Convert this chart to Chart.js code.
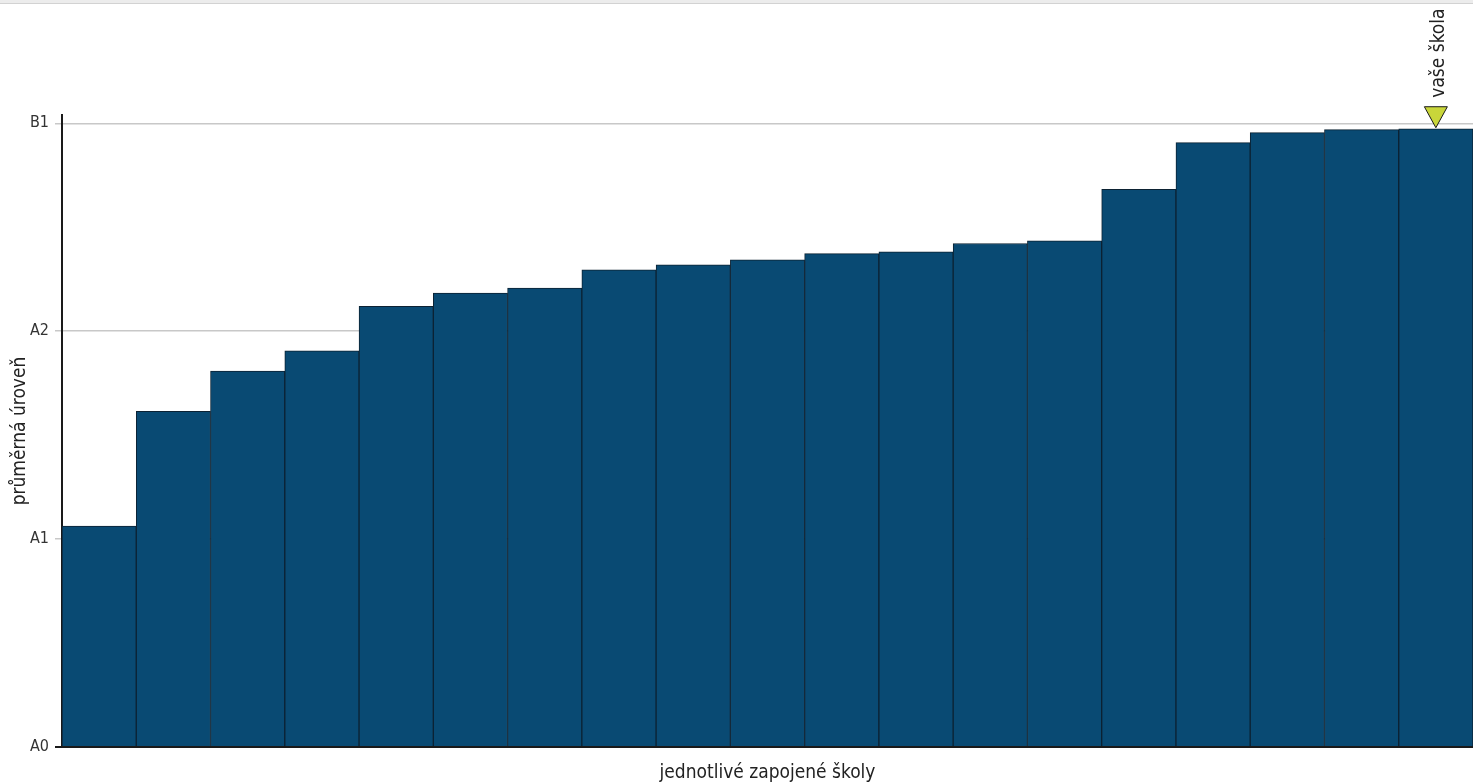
<!DOCTYPE html>
<html><head><meta charset="utf-8">
<script src="https://cdn.jsdelivr.net/npm/chart.js@4.4.1/dist/chart.umd.min.js"></script>
<style>
html,body{margin:0;padding:0;background:#fff;}
#topbar{height:3px;background:#ececec;border-bottom:1px solid #d2d2d2;}
#wrap{width:1473px;height:780px;position:relative;}
</style></head>
<body>
<div id="topbar"></div>
<div id="wrap"><canvas id="c"></canvas></div>
<script>
const categories = ["1","2","3","4","5","6","7","8","9","10","11","12","13","14","15","16","17","18","19"];
const levels = [1.063,1.615,1.808,1.906,2.120,2.184,2.208,2.295,2.319,2.343,2.373,2.382,2.422,2.435,2.683,2.907,2.955,2.970,2.974];
const tickValues = [0,1,2,3];
const tickLabels = ["A0","A1","A2","B1"];
const yourSchoolIndex = 18;
const yourSchoolLabel = "vaše škola";
const yTitle = "průměrná úroveň";
const xTitle = "jednotlivé zapojené školy";

const FONT = "'Liberation Sans Narrow','DejaVu Sans Condensed','Open Sans',sans-serif";

const markerPlugin = {
  id:'marker',
  afterDatasetsDraw(chart){
    const ctx = chart.ctx;
    const xs = chart.scales.x, ys = chart.scales.y;
    const x = xs.getPixelForValue(yourSchoolIndex);
    const yTip = ys.getPixelForValue(levels[yourSchoolIndex]) - 1;
    const h = 21, w = 23;
    ctx.save();
    ctx.beginPath();
    ctx.moveTo(x - w/2, yTip - h);
    ctx.lineTo(x + w/2, yTip - h);
    ctx.lineTo(x, yTip);
    ctx.closePath();
    ctx.fillStyle = '#c9d63a';
    ctx.fill();
    ctx.lineWidth = 1;
    ctx.strokeStyle = '#1a1a1a';
    ctx.stroke();
    ctx.translate(x + 3, yTip - h - 9);
    ctx.rotate(-Math.PI/2);
    ctx.fillStyle = '#222';
    ctx.font = "19px " + FONT;
    ctx.textAlign = 'left';
    ctx.textBaseline = 'middle';
    ctx.fillText(yourSchoolLabel, 0, 0);
    ctx.restore();
  }
};

new Chart(document.getElementById('c'), {
  type:'bar',
  data:{
    labels:categories,
    datasets:[{
      data:levels,
      backgroundColor:'#094a73',
      borderColor:'#0c2233',
      borderWidth:1,
      categoryPercentage:1,
      barPercentage:1
    }]
  },
  options:{
    responsive:true,
    maintainAspectRatio:false,
    animation:false,
    layout:{padding:{top:111,right:0,left:0,bottom:0}},
    plugins:{legend:{display:false},tooltip:{enabled:false}},
    scales:{
      x:{
        grid:{display:false, drawTicks:false},
        border:{display:true,color:'#1a1a1a',width:2},
        ticks:{display:false},
        title:{display:true,text:xTitle,color:'#222',font:{family:FONT,size:19},padding:{top:8,bottom:0}},
        afterFit(s){ s.height = 37; }
      },
      y:{
        min:0,max:3.04,
        afterBuildTicks(s){ s.ticks = tickValues.map(v=>({value:v})); },
        grid:{color:(c)=> c.tick && c.tick.value===0 ? '#1a1a1a' : '#c8c8c8', lineWidth:(c)=> c.tick && c.tick.value===0 ? 2 : 1.5, tickLength:7},
        border:{display:true,color:'#1a1a1a',width:2},
        ticks:{color:'#333',font:{family:FONT,size:16},padding:6,
          callback:(v)=>{const i=tickValues.indexOf(v);return i>=0?tickLabels[i]:'';}},
        title:{display:true,text:yTitle,color:'#222',font:{family:FONT,size:19},padding:{top:9,bottom:4}},
        afterFit(s){ s.width = 62; }
      }
    }
  },
  plugins:[markerPlugin]
});
</script>
</body></html>
